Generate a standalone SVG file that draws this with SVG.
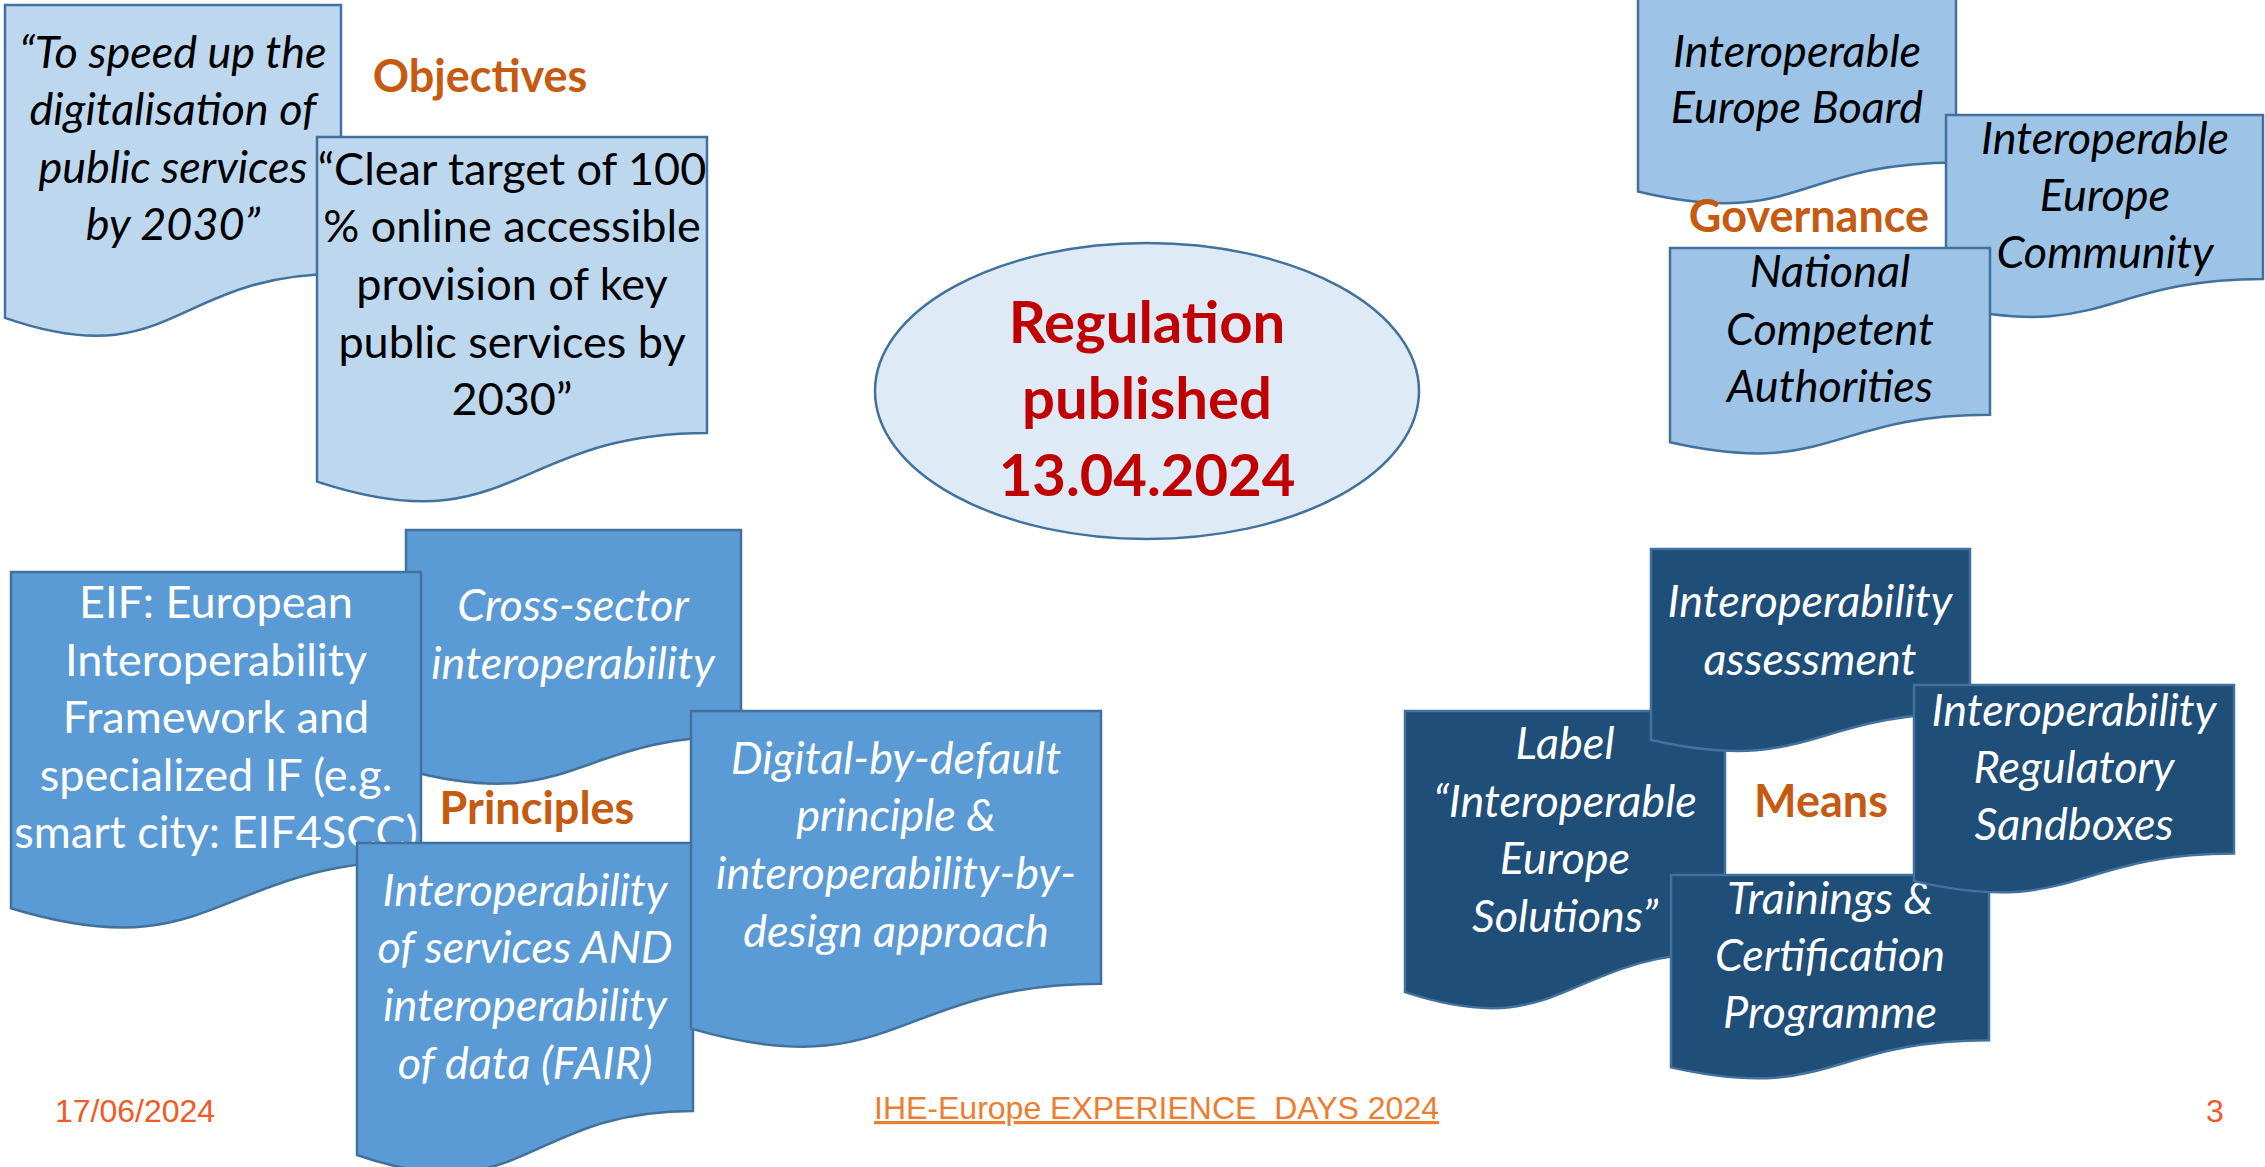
<svg xmlns="http://www.w3.org/2000/svg" width="2265" height="1167" viewBox="0 0 2265 1167">
<style>
.doc{stroke:#41719C;stroke-width:2.5}
.obj{fill:#BDD7EE}
.gov{fill:#9DC3E6}
.pri{fill:#5B9BD5}
.mea{fill:#1F4E79}
text{font-family:Lato,"Open Sans",sans-serif;font-size:45px;text-anchor:middle}
.bk{fill:#000}
.wh{fill:#fff}
.it{font-style:italic}
.hd{font-weight:bold;fill:#C55A11}
.reg{font-weight:bold;fill:#C00000;font-size:58px}
.ft{font-family:"Liberation Sans",Arial,sans-serif;font-size:32px}
</style>
<rect width="2265" height="1167" fill="#fff"/>
<g id="connectors"/>

<g id="obj1">
<path class="doc obj" d="M5,5 H341 V273.7 C173,273.7 173,376.2 5,317.9 Z"/>
<text class="bk it" x="173"><tspan x="173" y="68">“To speed up the</tspan><tspan x="173" y="125">digitalisation of</tspan><tspan x="173" y="183">public services</tspan><tspan x="173" y="240">by 2030”</tspan></text>
</g>
<g id="obj2">
<path class="doc obj" d="M317,137 H707 V432.9 C512,432.9 512,545.9 317,481.6 Z"/>
<text class="bk" x="512"><tspan x="512" y="185">“Clear target of 100</tspan><tspan x="512" y="242">% online accessible</tspan><tspan x="512" y="300">provision of key</tspan><tspan x="512" y="358">public services by</tspan><tspan x="512" y="415">2030”</tspan></text>
</g>
<g id="objectives-label"><text class="hd" x="480" y="92">Objectives</text></g>

<g id="gov-board">
<path class="doc gov" d="M1638,-14 H1956 V162.4 C1797,162.4 1797,229.8 1638,191.5 Z"/>
<text class="bk it"><tspan x="1797" y="67">Interoperable</tspan><tspan x="1797" y="123">Europe Board</tspan></text>
</g>
<g id="gov-community">
<path class="doc gov" d="M1946,115 H2263 V279 C2104.5,279 2104.5,341.6 1946,306 Z"/>
<text class="bk it"><tspan x="2105" y="154">Interoperable</tspan><tspan x="2105" y="211">Europe</tspan><tspan x="2105" y="268">Community</tspan></text>
</g>
<g id="gov-nca">
<path class="doc gov" d="M1670,248 H1990 V414.8 C1830,414.8 1830,478.5 1670,442.3 Z"/>
<text class="bk it"><tspan x="1830" y="287">National</tspan><tspan x="1830" y="344.5">Competent</tspan><tspan x="1830" y="402">Authorities</tspan></text>
</g>
<g id="governance-label"><text class="hd" x="1809" y="232">Governance</text></g>

<g id="regulation">
<ellipse cx="1147" cy="391" rx="272" ry="148" fill="#DEEBF7" stroke="#41719C" stroke-width="2.5"/>
<text class="reg"><tspan x="1147" y="343">Regulation</tspan><tspan x="1147" y="419">published</tspan><tspan x="1147" y="496">13.04.2024</tspan></text>
</g>

<g id="pri-cross">
<path class="doc pri" d="M406,530 H741 V736.1 C573.5,736.1 573.5,814.8 406,770 Z"/>
<text class="wh it"><tspan x="573" y="621">Cross-sector</tspan><tspan x="573" y="679">interoperability</tspan></text>
</g>
<g id="pri-eif">
<path class="doc pri" d="M11,572 H421 V860.7 C216,860.7 216,970.9 11,908.2 Z"/>
<text class="wh"><tspan x="216" y="618">EIF: European</tspan><tspan x="216" y="675.5">Interoperability</tspan><tspan x="216" y="733">Framework and</tspan><tspan x="216" y="790.5">specialized IF (e.g.</tspan><tspan x="216" y="848">smart city: EIF4SCC)</tspan></text>
</g>
<g id="pri-services">
<path class="doc pri" d="M357,843 H693 V1110.9 C525,1110.9 525,1213 357,1155 Z"/>
<text class="wh it"><tspan x="525" y="906">Interoperability</tspan><tspan x="525" y="963">of services AND</tspan><tspan x="525" y="1021">interoperability</tspan><tspan x="525" y="1079">of data (FAIR)</tspan></text>
</g>
<g id="pri-digital">
<path class="doc pri" d="M691,711 H1101 V983.7 C896,983.7 896,1087.7 691,1028.6 Z"/>
<text class="wh it"><tspan x="896" y="774">Digital-by-default</tspan><tspan x="896" y="831">principle &amp;</tspan><tspan x="896" y="889">interoperability-by-</tspan><tspan x="896" y="947">design approach</tspan></text>
</g>
<g id="principles-label"><text class="hd" x="537" y="824">Principles</text></g>

<g id="mea-label">
<path class="doc mea" d="M1405,711 H1725 V952.4 C1565,952.4 1565,1044.5 1405,992.1 Z"/>
<text class="wh it"><tspan x="1565" y="759">Label</tspan><tspan x="1565" y="816.5">“Interoperable</tspan><tspan x="1565" y="874">Europe</tspan><tspan x="1565" y="931.5">Solutions”</tspan></text>
</g>
<g id="mea-assessment">
<path class="doc mea" d="M1651,549 H1970 V713 C1810.5,713 1810.5,775.6 1651,740 Z"/>
<text class="wh it"><tspan x="1810" y="617">Interoperability</tspan><tspan x="1810" y="675">assessment</tspan></text>
</g>
<g id="mea-trainings">
<path class="doc mea" d="M1671,875 H1989 V1040.2 C1830,1040.2 1830,1103.2 1671,1067.4 Z"/>
<text class="wh it"><tspan x="1830" y="914">Trainings &amp;</tspan><tspan x="1830" y="971">Certification</tspan><tspan x="1830" y="1028">Programme</tspan></text>
</g>
<g id="mea-sandbox">
<path class="doc mea" d="M1914,685 H2234 V853.4 C2074,853.4 2074,917.7 1914,881.1 Z"/>
<text class="wh it"><tspan x="2074" y="726">Interoperability</tspan><tspan x="2074" y="783">Regulatory</tspan><tspan x="2074" y="840">Sandboxes</tspan></text>
</g>
<g id="means-label"><text class="hd" x="1821" y="817">Means</text></g>

<g id="footer">
<text class="ft" x="55" y="1122" style="text-anchor:start" fill="#F15A24">17/06/2024</text>
<text class="ft" x="1156.5" y="1119" fill="#ED7D31" text-decoration="underline" xml:space="preserve">IHE-Europe EXPERIENCE  DAYS 2024</text>
<text class="ft" x="2206" y="1122" style="text-anchor:start" fill="#F15A24">3</text>
</g>
</svg>
